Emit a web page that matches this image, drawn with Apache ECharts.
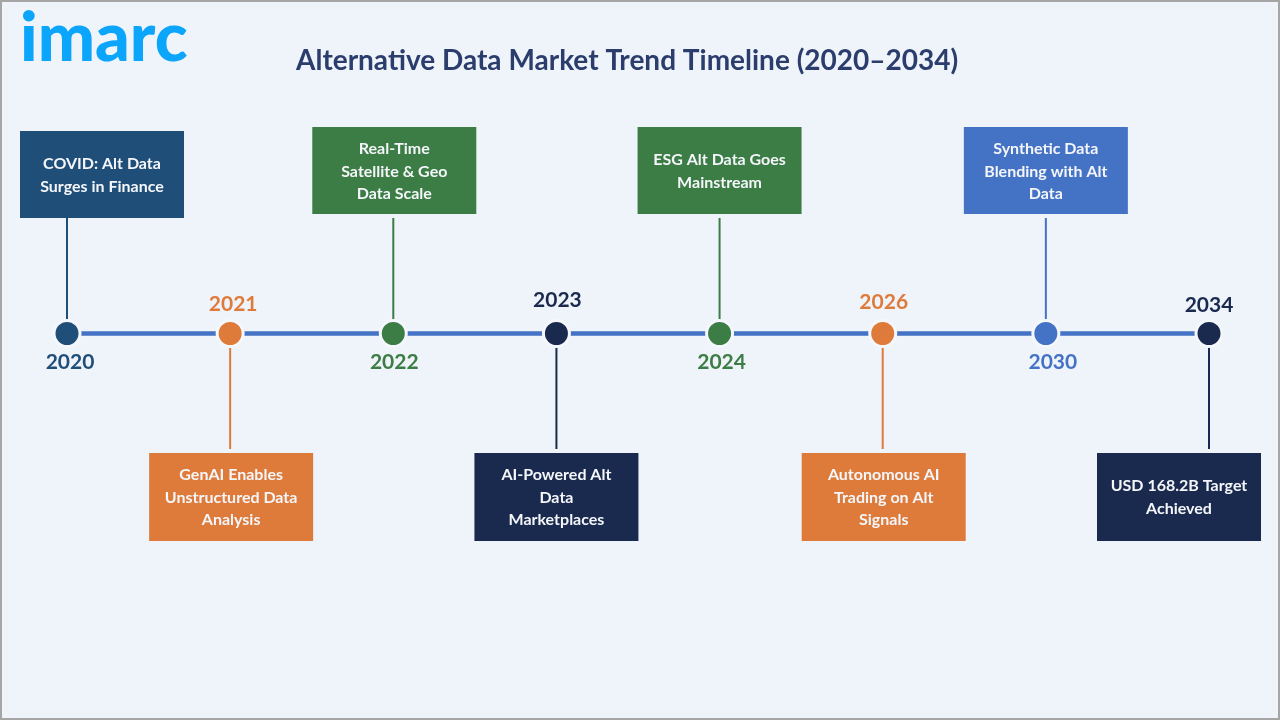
<!DOCTYPE html>
<html>
<head>
<meta charset="utf-8">
<title>Alternative Data Market Trend Timeline</title>
<script src="https://cdn.jsdelivr.net/npm/echarts@6/dist/echarts.min.js"></script>
<style>
  html, body { margin: 0; padding: 0; background: #eff3fa; }
  #chart { width: 1280px; height: 720px; }
</style>
</head>
<body>
<div id="chart"></div>
<script type="text/javascript">
  // timeline data
  const years = ['2020', '2021', '2022', '2023', '2024', '2026', '2030', '2034'];
  const milestones = [
    'COVID: Alt Data\nSurges in Finance',
    'GenAI Enables\nUnstructured Data\nAnalysis',
    'Real-Time\nSatellite & Geo\nData Scale',
    'AI-Powered Alt\nData\nMarketplaces',
    'ESG Alt Data Goes\nMainstream',
    'Autonomous AI\nTrading on Alt\nSignals',
    'Synthetic Data\nBlending with Alt\nData',
    'USD 168.2B Target\nAchieved'
  ];
  // +1 = box above the line, -1 = box below the line
  const sides = [1, -1, 1, -1, 1, -1, 1, -1];
  const baseline = [0, 0, 0, 0, 0, 0, 0, 0];
  const colors = ['#1f4e79', '#df7b3a', '#3c7d46', '#1a2a4e', '#3c7d46', '#df7b3a', '#4472c4', '#1a2a4e'];

  // small hand nudges, in pixels
  const boxShiftX = [35, 1, 1, 0, 0, 1, 0, -30];
  const boxGap = [0, 4, 4, 4, 4, 4, 4, 4];
  const labelShift = [[3, 0], [3, 0], [1, 0], [1, -4], [2, 0], [1, -2], [7, 0], [0, 1]];

  const FONT = 'Lato, "Noto Sans", sans-serif';
  const BOX_W = 164;
  const BOX_H = 87;

  var myChart = echarts.init(document.getElementById('chart'), null, { renderer: 'canvas' });

  function renderBox(params, api) {
    var i = api.value(0);
    var pt = api.coord([i, sides[i]]);
    var x = pt[0] + boxShiftX[i] - BOX_W / 2;
    var y = sides[i] > 0 ? pt[1] - boxGap[i] - BOX_H : pt[1] + boxGap[i];
    return {
      type: 'group',
      children: [
        {
          type: 'rect',
          shape: { x: x, y: y, width: BOX_W, height: BOX_H + (sides[i] < 0 ? 1 : 0) },
          style: { fill: colors[i] }
        },
        {
          type: 'text',
          x: x + BOX_W / 2,
          y: y + BOX_H / 2 + 1,
          style: {
            text: milestones[i],
            fill: '#f4f6fa',
            font: 'bold 16px ' + FONT,
            lineHeight: 22.5,
            align: 'center',
            verticalAlign: 'middle'
          }
        }
      ]
    };
  }

  var option = {
    animation: false,
    backgroundColor: '#eff3fa',
    title: {
      text: 'Alternative Data Market Trend Timeline (2020–2034)',
      left: 291,
      top: 42,
      textStyle: { color: '#2b3d6d', fontFamily: FONT, fontWeight: 'bold', fontSize: 28 }
    },
    grid: { left: 67, right: 71, top: 218, height: 231 },
    xAxis: { type: 'category', data: years, boundaryGap: false, show: false },
    yAxis: { type: 'value', min: -1, max: 1, show: false },
    graphic: {
      elements: [
        {
          type: 'rect',
          silent: true,
          z: 50,
          shape: { x: 1, y: 1, width: 1278, height: 718 },
          style: { fill: 'transparent', stroke: '#a6a6a6', lineWidth: 2 }
        },
        {
          type: 'text',
          left: 20,
          top: 5,
          style: { text: 'imarc', fill: '#0ba5fb', font: '900 68px ' + FONT }
        }
      ]
    },
    series: [
      {
        type: 'line',
        data: baseline,
        symbol: 'none',
        z: 1,
        lineStyle: { color: '#4472c4', width: 4.5 }
      },
      {
        type: 'bar',
        data: sides.map(function (v, i) {
          return { value: v, itemStyle: { color: colors[i] } };
        }),
        barWidth: 2,
        z: 2
      },
      {
        type: 'scatter',
        data: baseline.map(function (v, i) {
          return {
            value: [i, v],
            itemStyle: { color: colors[i] },
            label: {
              position: sides[i] > 0 ? 'bottom' : 'top',
              offset: labelShift[i],
              color: colors[i]
            }
          };
        }),
        symbolSize: 26,
        z: 3,
        itemStyle: { borderColor: '#f4f7fc', borderWidth: 3, opacity: 1 },
        label: {
          show: true,
          distance: 4,
          fontFamily: FONT,
          fontWeight: 'bold',
          fontSize: 21,
          formatter: function (p) { return years[p.dataIndex]; }
        }
      },
      {
        type: 'custom',
        data: years.map(function (y, i) { return [i]; }),
        renderItem: renderBox,
        z: 4
      }
    ]
  };
  myChart.setOption(option);
</script>
</body>
</html>
